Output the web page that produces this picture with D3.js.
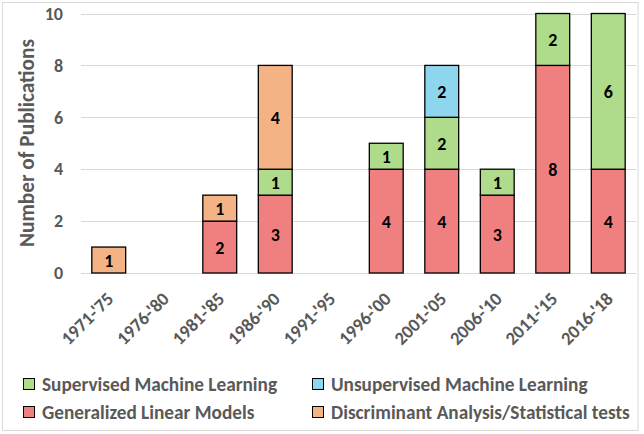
<!DOCTYPE html>
<html>
<head>
<meta charset="utf-8">
<script src="https://cdn.jsdelivr.net/npm/d3@7"></script>
<style>
  html, body { margin: 0; padding: 0; background: #fff; }
  svg { display: block; }
  text { font-family: Carlito, Lato, "Open Sans", sans-serif; }
</style>
</head>
<body>
<svg id="chart" width="644" height="434"></svg>
<script>
const categories = ["1971-'75", "1976-'80", "1981-'85", "1986-'90", "1991-'95", "1996-'00", "2001-'05", "2006-'10", "2011-'15", "2016-'18"];
const seriesNames = ["Generalized Linear Models", "Supervised Machine Learning", "Unsupervised Machine Learning", "Discriminant Analysis/Statistical tests"];
const glm          = [0, 0, 2, 3, 0, 4, 4, 3, 8, 4];
const supervised   = [0, 0, 0, 1, 0, 1, 2, 1, 2, 6];
const unsupervised = [0, 0, 0, 0, 0, 0, 2, 0, 0, 0];
const discriminant = [1, 0, 1, 4, 0, 0, 0, 0, 0, 0];
const yTicks = [0, 2, 4, 6, 8, 10];
const colors = ["#F08080", "#AEDC8A", "#8ED5EE", "#F4B384"];

const svg = d3.select("#chart");
const plotL = 81, plotR = 636, plotT = 13.5, plotB = 273;

// fit a text's font size so its width matches a target width
function fitWidth(sel, target) {
  sel.each(function () {
    const len = this.getComputedTextLength();
    const fs = parseFloat(this.getAttribute("font-size"));
    if (len > 0) this.setAttribute("font-size", (fs * target / len).toFixed(2));
  });
}

// outer frame
svg.append("rect").attr("x", 2.5).attr("y", 2.5).attr("width", 635.5).attr("height", 428)
  .attr("fill", "#fff").attr("stroke", "#D9D9D9").attr("stroke-width", 1);

const x = d3.scaleBand().domain(categories).range([plotL, plotR]).paddingInner(0.39).paddingOuter(0.195);
const y = d3.scaleLinear().domain([0, 10]).range([plotB, plotT]);

// gridlines
svg.append("g").selectAll("line").data(yTicks).join("line")
  .attr("x1", plotL).attr("x2", plotR)
  .attr("y1", d => Math.round(y(d)) + 0.5).attr("y2", d => Math.round(y(d)) + 0.5)
  .attr("stroke", "#D9D9D9").attr("stroke-width", 1);

// y axis
const yAxis = svg.append("g").attr("transform", `translate(${plotL},0)`)
  .call(d3.axisLeft(y).tickValues(yTicks).tickSize(0).tickPadding(18));
yAxis.select(".domain").remove();
yAxis.selectAll("text").attr("font-size", 18).attr("font-weight", "bold").attr("fill", "#595959")
  .style("font-family", "Carlito, Lato, 'Open Sans', sans-serif");

// x axis
const xAxis = svg.append("g").attr("transform", `translate(0,${plotB})`)
  .call(d3.axisBottom(x).tickSize(0).tickPadding(0));
xAxis.select(".domain").remove();
xAxis.selectAll("text")
  .attr("font-size", 18.5).attr("font-weight", "bold").attr("fill", "#595959")
  .style("font-family", "Carlito, Lato, 'Open Sans', sans-serif")
  .attr("text-anchor", "end").attr("dy", null).attr("y", 0)
  .attr("transform", "translate(6,27) rotate(-45)");

// stack
const rows = categories.map((c, i) => ({cat: c, s0: glm[i], s1: supervised[i], s2: unsupervised[i], s3: discriminant[i]}));
const stack = d3.stack().keys(["s0", "s1", "s2", "s3"])(rows);

const layers = svg.append("g").selectAll("g").data(stack).join("g").attr("fill", (d, i) => colors[i]);
layers.selectAll("rect").data(d => d.filter(p => p[1] - p[0] > 0)).join("rect")
  .attr("x", d => x(d.data.cat))
  .attr("y", d => y(d[1]))
  .attr("width", x.bandwidth())
  .attr("height", d => y(d[0]) - y(d[1]))
  .attr("stroke", "#000").attr("stroke-width", 1.3);

layers.selectAll("text").data(d => d.filter(p => p[1] - p[0] > 0)).join("text")
  .attr("x", d => x(d.data.cat) + x.bandwidth() / 2)
  .attr("y", d => (y(d[0]) + y(d[1])) / 2)
  .attr("dy", "0.36em")
  .attr("text-anchor", "middle")
  .attr("font-size", 18).attr("font-weight", "bold").attr("fill", "#000")
  .text(d => d[1] - d[0]);

// y title
svg.append("text")
  .attr("transform", `translate(34,${(39 + 247) / 2}) rotate(-90)`)
  .attr("text-anchor", "middle")
  .attr("font-size", 20).attr("font-weight", "bold").attr("fill", "#595959")
  .text("Number of Publications")
  .call(fitWidth, 208);

// legend
const legendItems = [
  {name: seriesNames[1], color: colors[1], x: 23, y: 378, w: 240},
  {name: seriesNames[2], color: colors[2], x: 312, y: 378, w: 264},
  {name: seriesNames[0], color: colors[0], x: 23, y: 406, w: 216},
  {name: seriesNames[3], color: colors[3], x: 312, y: 406, w: 299}
];
const lg = svg.append("g").selectAll("g").data(legendItems).join("g")
  .attr("transform", d => `translate(${d.x},${d.y})`);
lg.append("rect").attr("x", 0.5).attr("y", 0.5).attr("width", 11).attr("height", 11)
  .attr("fill", d => d.color).attr("stroke", "#000").attr("stroke-width", 1);
const lt = lg.append("text").attr("x", 19).attr("y", 6).attr("dy", "0.35em")
  .attr("font-size", 20).attr("font-weight", "bold").attr("fill", "#595959")
  .text(d => d.name);
// use one common size for legend text, fitted to the longest entry
const longest = lt.filter(d => d.name === seriesNames[3]).node();
const fsLegend = 20 * 299 / longest.getComputedTextLength();
lt.attr("font-size", fsLegend.toFixed(2));
</script>
</body>
</html>
